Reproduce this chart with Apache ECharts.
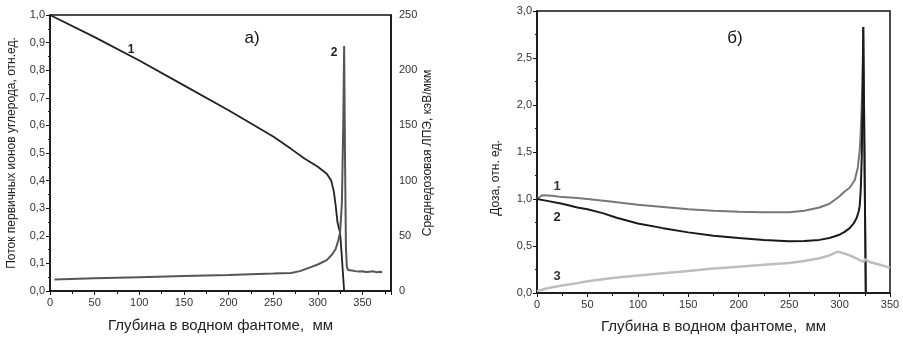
<!DOCTYPE html>
<html>
<head>
<meta charset="utf-8">
<script src="https://cdn.jsdelivr.net/npm/echarts@6/dist/echarts.min.js"></script>
<style>
  html, body { margin: 0; padding: 0; background: #fff; }
  #chart { width: 903px; height: 341px; }
</style>
</head>
<body>
<div id="chart"></div>
<script>
// --- panel a): flux of primary carbon ions (left axis) and mean LET (right axis)
const fluxDepth = [0, 50, 100, 150, 200, 250, 270, 285, 300, 310, 315, 318, 320, 322, 325, 327, 329.5];
const fluxValue = [1.0, 0.92, 0.835, 0.745, 0.655, 0.56, 0.515, 0.48, 0.45, 0.425, 0.40, 0.36, 0.31, 0.25, 0.21, 0.12, 0.0];

const letDepth = [5, 50, 100, 150, 200, 250, 270, 280, 290, 300, 310, 316, 320, 323, 325, 327, 328.5, 329.5, 330.5, 331.5, 332.5,
  334, 336, 338, 340, 342, 344, 346, 348, 350, 352, 354, 356, 358, 360, 362, 364, 366, 368, 370, 372];
const letValue = [10.5, 11.5, 12.5, 13.5, 14.5, 15.8, 16.4, 18, 21, 24, 28, 33, 38, 46, 53, 80, 150, 222, 120, 40, 22,
  19, 17.5, 18.5, 17, 18, 16.8, 17.6, 16.5, 17.8, 16.6, 17.2, 16.4, 17.5, 16.8, 17.8, 16.2, 17.0, 16.5, 17.4, 16.8];

// --- panel б): dose curves
const dose1Depth = [0, 5, 15, 25, 40, 50, 75, 100, 125, 150, 175, 200, 225, 250, 265, 280, 290, 300, 305, 310, 315, 318, 320, 321, 322, 323, 323.5, 326];
const dose1Value = [1.0, 1.04, 1.035, 1.02, 1.01, 1.0, 0.97, 0.94, 0.915, 0.89, 0.875, 0.865, 0.86, 0.86, 0.875, 0.91, 0.95, 1.03, 1.08, 1.12, 1.2, 1.33, 1.52, 1.72, 2.0, 2.4, 2.83, 0];

const dose2Depth = [0, 10, 25, 40, 50, 65, 79, 100, 125, 150, 175, 200, 225, 250, 265, 280, 290, 300, 305, 310, 314, 317, 319, 320, 321, 322, 323, 323.5, 326];
const dose2Value = [1.0, 0.98, 0.95, 0.91, 0.89, 0.85, 0.8, 0.74, 0.69, 0.645, 0.61, 0.585, 0.565, 0.55, 0.553, 0.565, 0.585, 0.62, 0.65, 0.69, 0.74, 0.8, 0.87, 0.93, 1.1, 1.45, 2.2, 2.83, 0];

const dose3Depth = [0, 10, 25, 40, 50, 75, 100, 125, 150, 175, 200, 225, 250, 265, 280, 290, 298, 305, 310, 316, 322, 324, 325, 326, 330, 340, 350];
const dose3Value = [0.02, 0.05, 0.08, 0.105, 0.125, 0.16, 0.185, 0.21, 0.235, 0.26, 0.28, 0.3, 0.32, 0.34, 0.37, 0.4, 0.44, 0.42, 0.40, 0.37, 0.34, 0.33, 0.36, 0.34, 0.33, 0.30, 0.27];

const xTitle = 'Глубина в водном фантоме,  мм';

const pairs = (xs, ys) => xs.map((x, i) => [x, ys[i]]);
const comma = (v, d) => v.toFixed(d).replace('.', ',');

const chart = echarts.init(document.getElementById('chart'));

const axisText = { color: '#333', fontSize: 11, fontFamily: 'Liberation Sans' };
const blackLine = { lineStyle: { color: '#111', width: 1.5 } };

const option = {
  animation: false,
  textStyle: { fontFamily: 'Liberation Sans' },
  grid: [
    { left: 50, right: 512, top: 15, bottom: 50, show: true, borderColor: '#111', borderWidth: 1.5 },
    { left: 537, right: 13, top: 11, bottom: 48, show: true, borderColor: '#111', borderWidth: 1.5 }
  ],
  xAxis: [
    {
      type: 'value', gridIndex: 0, min: 0, max: 382, interval: 50,
      name: xTitle, nameLocation: 'middle', nameGap: 27,
      nameTextStyle: { fontSize: 15, color: '#222' },
      axisLine: blackLine,
      axisTick: { length: 4, lineStyle: { color: '#111' } },
      minorTick: { show: true, splitNumber: 2, length: 3, lineStyle: { color: '#111' } },
      splitLine: { show: false },
      axisLabel: { ...axisText, margin: 6, showMaxLabel: false }
    },
    {
      type: 'value', gridIndex: 1, min: 0, max: 350, interval: 50,
      name: xTitle, nameLocation: 'middle', nameGap: 26,
      nameTextStyle: { fontSize: 15, color: '#222' },
      axisLine: blackLine,
      axisTick: { length: 4, lineStyle: { color: '#111' } },
      minorTick: { show: true, splitNumber: 2, length: 3, lineStyle: { color: '#111' } },
      splitLine: { show: false },
      axisLabel: { ...axisText, margin: 6 }
    }
  ],
  yAxis: [
    {
      type: 'value', gridIndex: 0, min: 0, max: 1, interval: 0.1,
      name: 'Поток первичных ионов углерода, отн.ед.', nameLocation: 'middle', nameGap: 32,
      nameTextStyle: { fontSize: 12, color: '#222' },
      axisLine: blackLine,
      axisTick: { length: 4, lineStyle: { color: '#111' } },
      minorTick: { show: true, splitNumber: 2, length: 2, lineStyle: { color: '#111' } },
      splitLine: { show: false },
      axisLabel: { ...axisText, margin: 5, formatter: v => comma(v, 1) }
    },
    {
      type: 'value', gridIndex: 0, min: 0, max: 250, interval: 50, position: 'right',
      name: 'Среднедозовая ЛПЭ, кэВ/мкм', nameLocation: 'middle', nameGap: 30,
      nameTextStyle: { fontSize: 12, color: '#222' },
      axisLine: blackLine,
      axisTick: { show: false },
      splitLine: { show: false },
      axisLabel: { ...axisText, margin: 8 }
    },
    {
      type: 'value', gridIndex: 1, min: 0, max: 3, interval: 0.5,
      axisLine: blackLine,
      axisTick: { length: 4, lineStyle: { color: '#111' } },
      minorTick: { show: true, splitNumber: 2, length: 2, lineStyle: { color: '#111' } },
      splitLine: { show: false },
      axisLabel: { ...axisText, margin: 5, formatter: v => comma(v, 1) }
    }
  ],
  graphic: [
    { type: 'text', x: 496, y: 178, rotation: Math.PI / 2, style: { text: 'Доза, отн. ед.', fontSize: 12, fill: '#222', align: 'center', verticalAlign: 'middle', fontFamily: 'Liberation Sans' } },
    { type: 'text', x: 252, y: 38, style: { text: 'а)', fontSize: 17, fill: '#111', align: 'center', verticalAlign: 'middle', fontFamily: 'Liberation Sans' } },
    { type: 'text', x: 735, y: 38, style: { text: 'б)', fontSize: 17, fill: '#111', align: 'center', verticalAlign: 'middle', fontFamily: 'Liberation Sans' } },
    { type: 'text', x: 131, y: 50, style: { text: '1', fontSize: 12, fontWeight: 'bold', fill: '#222', align: 'center', verticalAlign: 'middle' } },
    { type: 'text', x: 334, y: 53, style: { text: '2', fontSize: 12, fontWeight: 'bold', fill: '#222', align: 'center', verticalAlign: 'middle' } },
    { type: 'text', x: 557, y: 186, style: { text: '1', fontSize: 13, fontWeight: 'bold', fill: '#333', align: 'center', verticalAlign: 'middle' } },
    { type: 'text', x: 557, y: 217, style: { text: '2', fontSize: 13, fontWeight: 'bold', fill: '#222', align: 'center', verticalAlign: 'middle' } },
    { type: 'text', x: 557, y: 276, style: { text: '3', fontSize: 13, fontWeight: 'bold', fill: '#333', align: 'center', verticalAlign: 'middle' } }
  ],
  series: [
    {
      name: 'flux', type: 'line', xAxisIndex: 0, yAxisIndex: 0,
      data: pairs(fluxDepth, fluxValue), symbol: 'none',
      lineStyle: { color: '#222', width: 1.8 }
    },
    {
      name: 'LET', type: 'line', xAxisIndex: 0, yAxisIndex: 1,
      data: pairs(letDepth, letValue), symbol: 'none',
      lineStyle: { color: '#555', width: 2 }
    },
    {
      name: 'dose1', type: 'line', xAxisIndex: 1, yAxisIndex: 2,
      data: pairs(dose1Depth, dose1Value), symbol: 'none',
      lineStyle: { color: '#777', width: 2 }
    },
    {
      name: 'dose2', type: 'line', xAxisIndex: 1, yAxisIndex: 2,
      data: pairs(dose2Depth, dose2Value), symbol: 'none',
      lineStyle: { color: '#1a1a1a', width: 2 }
    },
    {
      name: 'dose3', type: 'line', xAxisIndex: 1, yAxisIndex: 2,
      data: pairs(dose3Depth, dose3Value), symbol: 'none',
      lineStyle: { color: '#bdbdbd', width: 2.5 }
    }
  ]
};

chart.setOption(option);
</script>
</body>
</html>
